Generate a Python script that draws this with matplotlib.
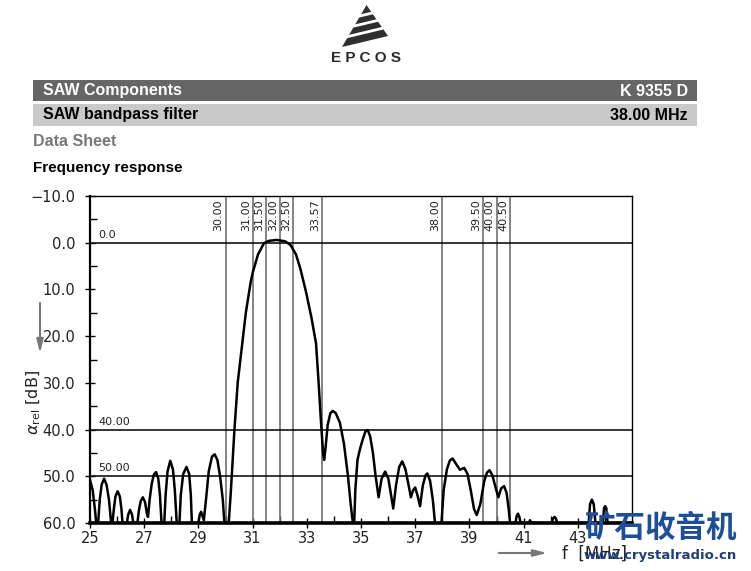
import matplotlib
matplotlib.use("Agg")
from matplotlib import pyplot as plt
from matplotlib.patches import Rectangle, Polygon

# frequency response
freq = [25.00, 25.10, 25.18, 25.23, 25.30, 25.36, 25.43, 25.52, 25.61, 25.70, 25.78,
        25.83, 25.88, 25.94, 26.02, 26.10, 26.16, 26.20, 26.36, 26.41, 26.48, 26.55, 26.60,
        26.75, 26.80, 26.87, 26.95, 27.03, 27.10, 27.14, 27.20, 27.28, 27.36, 27.44, 27.52,
        27.58, 27.64, 27.74, 27.79, 27.86, 27.96, 28.06, 28.13, 28.20, 28.30, 28.35, 28.44,
        28.56, 28.66, 28.72, 28.76, 29.00, 29.05, 29.10, 29.15, 29.20, 29.28, 29.38, 29.50,
        29.60, 29.70, 29.80, 29.90, 29.96, 30.12, 30.20, 30.33, 30.45, 30.55, 30.62, 30.75,
        30.93, 31.00, 31.20, 31.42, 31.60, 31.90, 32.20, 32.40, 32.60, 32.76, 32.97, 33.17,
        33.34, 33.43, 33.52, 33.60, 33.64, 33.69, 33.77, 33.87, 33.96, 34.07, 34.22, 34.37,
        34.52, 34.62, 34.70, 34.75, 34.79, 34.87, 34.97, 35.07, 35.17, 35.25, 35.34, 35.44,
        35.54, 35.65, 35.76, 35.89, 36.01, 36.11, 36.19, 36.29, 36.41, 36.52, 36.64, 36.76,
        36.84, 36.92, 37.00, 37.08, 37.18, 37.28, 37.38, 37.45, 37.55, 37.65, 37.73, 37.97,
        38.05, 38.17, 38.28, 38.38, 38.50, 38.65, 38.81, 38.93, 39.05, 39.17, 39.27, 39.40,
        39.55, 39.65, 39.74, 39.85, 39.97, 40.07, 40.17, 40.28, 40.37, 40.45, 40.50, 40.70,
        40.74, 40.79, 40.84, 40.89, 41.19, 41.24, 41.29, 42.04, 42.09, 42.14, 42.19, 42.24,
        43.40, 43.45, 43.52, 43.59, 43.65, 43.92, 43.97, 44.01, 44.05, 44.10, 45.00]
atten = [50.8, 53.0, 57.0, 60.0, 60.0, 55.0, 51.8, 50.5, 51.8, 55.0, 60.0,
         60.0, 57.0, 54.3, 53.2, 54.3, 57.0, 60.0, 60.0, 58.2, 57.2, 58.2, 60.0,
         60.0, 57.5, 55.3, 54.5, 55.5, 58.0, 58.7, 55.0, 51.5, 49.6, 49.1, 50.5,
         54.0, 60.0, 60.0, 54.0, 49.0, 46.7, 48.5, 53.0, 60.0, 60.0, 54.0, 49.5,
         48.0, 49.5, 54.0, 60.0, 60.0, 58.2, 57.6, 58.5, 59.4, 55.0, 49.0, 45.8,
         45.3, 46.5, 50.0, 55.0, 60.0, 60.0, 53.0, 40.0, 30.0, 25.0, 21.5, 15.0,
         8.4, 6.5, 2.5, 0.1, -0.4, -0.6, -0.3, 0.5, 2.5, 5.5, 10.5, 16.0,
         21.5, 29.4, 38.0, 45.0, 46.5, 44.0, 39.0, 36.5, 36.0, 36.5, 38.5, 43.0,
         50.0, 56.0, 60.0, 60.0, 53.0, 46.5, 44.0, 42.0, 40.3, 40.1, 41.5, 45.0,
         50.0, 54.5, 50.5, 49.0, 50.5, 54.0, 56.9, 52.0, 48.0, 46.8, 48.5, 52.0,
         54.5, 53.0, 52.4, 54.0, 56.4, 52.0, 49.8, 49.4, 51.0, 55.0, 60.0, 60.0,
         53.0, 48.5, 46.6, 46.2, 47.3, 48.6, 48.2, 49.5, 53.0, 57.0, 58.3, 56.0,
         51.0, 49.2, 48.7, 49.8, 52.5, 54.5, 52.6, 52.1, 53.5, 57.0, 60.0, 60.0,
         58.6, 58.0, 58.6, 60.0, 60.0, 59.4, 60.0, 60.0, 59.0, 58.7, 59.0, 60.0,
         60.0, 56.0, 55.0, 56.0, 60.0, 60.0, 56.8, 56.4, 56.8, 60.0, 60.0]

marker_freqs = [30.00, 31.00, 31.50, 32.00, 32.50, 33.57, 38.00, 39.50, 40.00, 40.50]
marker_levels = [0.0, 40.0, 50.0]
level_labels = ["0.0", "40.00", "50.00"]

xticks = [25, 27, 29, 31, 33, 35, 37, 39, 41, 43]
yticks = [-10, 0, 10, 20, 30, 40, 50, 60]
ytick_labels = ["\u221210.0", "0.0", "10.0", "20.0", "30.0", "40.0", "50.0", "60.0"]

fig = plt.figure(figsize=(7.51, 5.71), dpi=100)

# page header drawn in pixel coordinates
bg = fig.add_axes([0, 0, 1, 1])
bg.set_xlim(0, 751)
bg.set_ylim(571, 0)
bg.axis("off")

# EPCOS logo: striped cone
apex = (366.5, 5.0)
left_base = (342.0, 47.0)
right_base = (388.0, 36.0)
for t0, t1 in [(0.0, 0.22), (0.3, 0.46), (0.54, 0.71), (0.79, 1.0)]:
    l0 = (apex[0] + t0 * (left_base[0] - apex[0]), apex[1] + t0 * (left_base[1] - apex[1]))
    l1 = (apex[0] + t1 * (left_base[0] - apex[0]), apex[1] + t1 * (left_base[1] - apex[1]))
    r0 = (apex[0] + t0 * (right_base[0] - apex[0]), apex[1] + t0 * (right_base[1] - apex[1]))
    r1 = (apex[0] + t1 * (right_base[0] - apex[0]), apex[1] + t1 * (right_base[1] - apex[1]))
    bg.add_patch(Polygon([l0, r0, r1, l1], closed=True, color="#2e2e2e", lw=0))
bg.text(366, 58, "E P C O S", ha="center", va="center", fontsize=11, fontweight="bold",
        color="#2a2a2a", family="Liberation Sans")

bg.add_patch(Rectangle((33, 80), 664, 21, color="#666666", lw=0))
bg.add_patch(Rectangle((33, 104), 664, 22, color="#c9c9c9", lw=0))
bg.text(43, 91, "SAW Components", ha="left", va="center", fontsize=11.5,
        fontweight="bold", color="white", family="Liberation Sans")
bg.text(688, 91, "K 9355 D", ha="right", va="center", fontsize=11.5,
        fontweight="bold", color="white", family="Liberation Sans")
bg.text(43, 115, "SAW bandpass filter", ha="left", va="center", fontsize=11.5,
        fontweight="bold", color="black", family="Liberation Sans")
bg.text(688, 115, "38.00 MHz", ha="right", va="center", fontsize=11.5,
        fontweight="bold", color="black", family="Liberation Sans")
bg.text(33, 141, "Data Sheet", ha="left", va="center", fontsize=11.5,
        fontweight="bold", color="#777777", family="Liberation Sans")
bg.text(33, 168, "Frequency response", ha="left", va="center", fontsize=11,
        fontweight="bold", color="black", family="Liberation Sans")

# axis direction arrows
bg.annotate("", xy=(40, 356), xytext=(40, 300),
            arrowprops=dict(arrowstyle="-|>,head_length=0.8,head_width=0.2", color="#777777", lw=1.5))
bg.annotate("", xy=(550, 553), xytext=(496, 553),
            arrowprops=dict(arrowstyle="-|>,head_length=0.8,head_width=0.2", color="#777777", lw=1.5))
bg.text(34, 403, r"$\alpha_{\rm rel}$ [dB]", rotation=90, ha="center", va="center",
        fontsize=11.5, color="#222222")
bg.text(562, 554, "f  [MHz]", ha="left", va="center", fontsize=12, color="#222222")

# the chart
ax = fig.add_axes([90 / 751, 48 / 571, 542 / 751, 327 / 571])
ax.plot(freq, atten, color="black", lw=1.8, zorder=3)

for f in marker_freqs:
    ax.axvline(f, color="#6e6e6e", lw=1.2, zorder=2)
    ax.text(f - 0.07, -9.3, "%.2f" % f, rotation=90, ha="right", va="top",
            fontsize=8, color="#222222")
for lev, lab in zip(marker_levels, level_labels):
    ax.axhline(lev, color="black", lw=1.1, zorder=2)
    ax.text(25.3, lev - 0.6, lab, ha="left", va="bottom", fontsize=8, color="#222222")

ax.set_xlim(25, 45)
ax.set_ylim(60, -10)
ax.set_xticks(xticks)
ax.set_xticks(range(26, 45, 2), minor=True)
ax.set_yticks(yticks)
ax.set_yticklabels(ytick_labels)
ax.set_yticks([-5, 5, 15, 25, 35, 45, 55], minor=True)
ax.tick_params(axis="both", which="major", direction="inout", length=7, width=1,
               labelsize=10.5, labelcolor="#222222")
ax.tick_params(axis="both", which="minor", direction="in", length=5, width=1)
ax.tick_params(axis="x", pad=2)
ax.tick_params(axis="y", pad=7)
ax.spines["bottom"].set_linewidth(2.6)
ax.spines["left"].set_linewidth(1.6)
ax.spines["top"].set_linewidth(1.0)
ax.spines["right"].set_linewidth(1.0)

# site watermark over the lower right corner
fig.text(584 / 751, 1 - 528 / 571, "矿石收音机", ha="left", va="center", fontsize=22,
         fontweight="bold", color="#1d4f98", family=["Noto Sans CJK SC", "DejaVu Sans"], zorder=5)
fig.text(584 / 751, 1 - 556 / 571, "www.crystalradio.cn", ha="left", va="center", fontsize=9.5,
         fontweight="bold", color="#1d3f7a", family="DejaVu Sans", zorder=5)

fig.savefig("out.png", dpi=100)
